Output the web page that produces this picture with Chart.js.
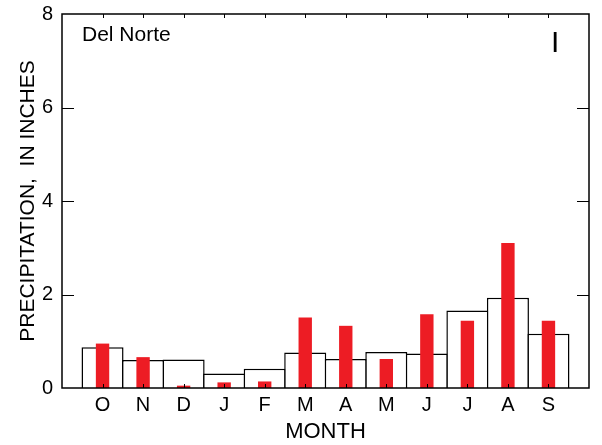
<!DOCTYPE html>
<html>
<head>
<meta charset="utf-8">
<script src="https://cdn.jsdelivr.net/npm/chart.js@4.4.1/dist/chart.umd.min.js"></script>
<style>
  html, body { margin: 0; padding: 0; background: #fff; }
  #wrap { width: 602px; height: 445px; }
</style>
</head>
<body>
<div id="wrap"><canvas id="precipChart" width="602" height="445"></canvas></div>
<script>
// Månadsnederbörd, Del Norte
const months = ["O", "N", "D", "J", "F", "M", "A", "M", "J", "J", "A", "S"];
const meanPrecip = [0.87, 0.60, 0.61, 0.31, 0.41, 0.76, 0.62, 0.77, 0.74, 1.66, 1.93, 1.16];
const yearPrecip = [0.95, 0.66, 0.05, 0.12, 0.14, 1.51, 1.33, 0.62, 1.58, 1.44, 3.10, 1.44];
const yTicks = [0, 2, 4, 6, 8];

const FONT = "'Liberation Sans', Arial, sans-serif";
const RED = "#ed1c24";

// månad i sitter på x = i+1, axeln går 0..13
const toPoints = arr => arr.map((v, i) => ({ x: i + 1, y: v }));

// ram, inåtvända tickar och texter i diagrammet
const framePlugin = {
  id: "frame",
  afterDatasetsDraw(chart){
    const { ctx, chartArea: a, scales } = chart;
    const x = scales.x, y = scales.y;
    ctx.save();
    ctx.strokeStyle = "#000";
    ctx.lineWidth = 1.5;
    ctx.strokeRect(a.left, a.top, a.right - a.left, a.bottom - a.top);

    ctx.beginPath();
    yTicks.slice(1, -1).forEach(v => {
      const py = Math.round(y.getPixelForValue(v)) + 0.5;
      ctx.moveTo(a.left, py); ctx.lineTo(a.left + 12, py);
      ctx.moveTo(a.right, py); ctx.lineTo(a.right - 12, py);
    });
    months.forEach((m, i) => {
      const px = Math.round(x.getPixelForValue(i + 1)) + 0.5;
      ctx.moveTo(px, a.top); ctx.lineTo(px, a.top + 4);
      ctx.moveTo(px, a.bottom); ctx.lineTo(px, a.bottom - 4);
    });
    ctx.lineWidth = 1;
    ctx.stroke();

    ctx.fillStyle = "#000";
    ctx.textBaseline = "middle";
    ctx.textAlign = "left";
    ctx.font = "21px " + FONT;
    ctx.fillText("Del Norte", 82, 35);
    ctx.font = "30px " + FONT;
    ctx.fillText("I", 551, 44);
    ctx.restore();
  }
};

new Chart(document.getElementById("precipChart"), {
  type: "bar",
  data: {
    datasets: [
      {
        label: "year",
        data: toPoints(yearPrecip),
        backgroundColor: RED,
        borderWidth: 0,
        barPercentage: 0.33,
        categoryPercentage: 1,
        grouped: false,
        order: 0
      },
      {
        label: "mean",
        data: toPoints(meanPrecip),
        backgroundColor: "#fff",
        borderColor: "#000",
        borderWidth: 1.5,
        barPercentage: 1.037,
        categoryPercentage: 1,
        grouped: false,
        order: 1
      }
    ]
  },
  options: {
    responsive: false,
    animation: false,
    layout: { padding: { top: 14, right: 13, left: 0, bottom: 0 } },
    plugins: { legend: { display: false }, tooltip: { enabled: false } },
    scales: {
      x: {
        type: "linear",
        offset: false,
        min: 0,
        max: 13,
        afterFit: s => { s.height = 57; s.paddingLeft = 0; s.paddingRight = 0; },
        afterBuildTicks: s => { s.ticks = months.map((m, i) => ({ value: i + 1 })); },
        grid: { display: false, drawTicks: false },
        border: { display: false },
        ticks: {
          autoSkip: false,
          maxRotation: 0,
          padding: 5,
          color: "#000",
          font: { family: FONT, size: 20 },
          callback: v => months[v - 1] || ""
        },
        title: {
          display: true,
          text: "MONTH",
          color: "#000",
          font: { family: FONT, size: 22 },
          padding: { top: 0, bottom: 0 }
        }
      },
      y: {
        min: 0,
        max: 8,
        afterFit: s => { s.width = 62; s.paddingTop = 0; s.paddingBottom = 0; },
        afterBuildTicks: s => { s.ticks = yTicks.map(v => ({ value: v })); },
        grid: { display: false, drawTicks: false },
        border: { display: false },
        ticks: {
          padding: 9,
          crossAlign: "near",
          color: "#000",
          font: { family: FONT, size: 20 }
        },
        title: {
          display: true,
          text: "PRECIPITATION,  IN INCHES",
          color: "#000",
          font: { family: FONT, size: 21 },
          padding: { top: 16, bottom: 0 }
        }
      }
    }
  },
  plugins: [framePlugin]
});
</script>
</body>
</html>
